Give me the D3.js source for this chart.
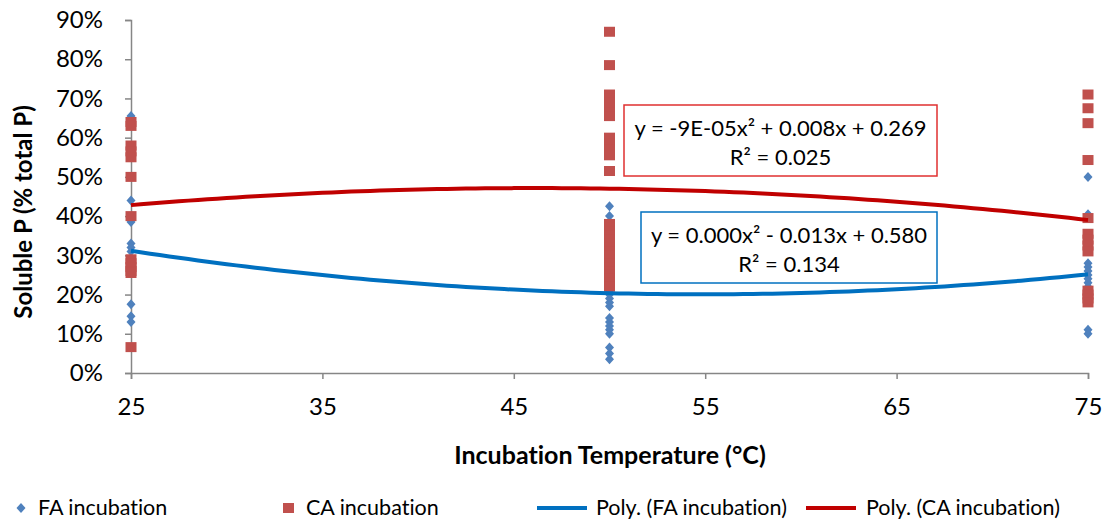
<!DOCTYPE html>
<html>
<head>
<meta charset="utf-8">
<script src="https://cdn.jsdelivr.net/npm/d3@7"></script>
<style>
  body { margin: 0; background: #fff; }
  svg { display: block; font-family: Lato, "Open Sans", sans-serif; font-variant-ligatures: none; }
</style>
</head>
<body>
<svg id="chart" width="1105" height="523"></svg>
<script>
// temperatures (x) and soluble P fractions
const temps = [25, 50, 75];
const faValues = [
  [0.655, 0.44, 0.385, 0.33, 0.32, 0.31, 0.175, 0.145, 0.13],
  [0.425, 0.40, 0.21, 0.20, 0.19, 0.18, 0.17, 0.14, 0.13, 0.12, 0.11, 0.10, 0.065, 0.05, 0.035],
  [0.50, 0.405, 0.28, 0.27, 0.26, 0.25, 0.24, 0.23, 0.22, 0.11, 0.10]
];
const caValues = [
  [0.64, 0.63, 0.58, 0.565, 0.55, 0.50, 0.40, 0.29, 0.28, 0.27, 0.26, 0.255, 0.066],
  [0.87, 0.785, 0.71, 0.70, 0.69, 0.68, 0.665, 0.655, 0.60, 0.585, 0.57, 0.555, 0.515,
   0.38, 0.37, 0.36, 0.35, 0.34, 0.33, 0.32, 0.31, 0.30, 0.29, 0.28, 0.27, 0.26, 0.25, 0.24, 0.23, 0.22],
  [0.71, 0.675, 0.637, 0.543, 0.395, 0.355, 0.34, 0.325, 0.31, 0.21, 0.20, 0.19, 0.18]
];
// polynomial trendline coefficients [a, b, c] for a*x^2 + b*x + c
const faTrend = [0.000125, -0.0137, 0.576];
const caTrend = [-0.0000976, 0.009, 0.264];
const faLabel = ["y = 0.000x\u00b2 - 0.013x + 0.580", "R\u00b2 = 0.134"];
const caLabel = ["y = -9E-05x\u00b2 + 0.008x + 0.269", "R\u00b2 = 0.025"];
const xTicks = [25, 35, 45, 55, 65, 75];
const yTicks = [0, 0.1, 0.2, 0.3, 0.4, 0.5, 0.6, 0.7, 0.8, 0.9];

const BLUE = "#4F81BD", RED = "#C0504D";
const BLUE_LINE = "#0070C0", RED_LINE = "#C00000";
const AXIS = "#868686";

const svg = d3.select("#chart");
const x = d3.scaleLinear().domain([25, 75]).range([131, 1088]);
const y = d3.scaleLinear().domain([0, 0.9]).range([373, 20]);

const diamond = "M0,-5L4.5,0L0,5L-4.5,0Z";

// y axis
const yAxis = svg.append("g").attr("transform", "translate(131,0)")
  .call(d3.axisLeft(y).tickValues(yTicks).tickFormat(d3.format(".0%")).tickSizeOuter(0).tickSize(6).tickPadding(22));
yAxis.select(".domain").attr("stroke", AXIS).attr("stroke-width", 1.5);
yAxis.selectAll(".tick line").attr("stroke", AXIS).attr("stroke-width", 1.5);
yAxis.selectAll(".tick text").attr("font-size", 24).attr("fill", "#000").attr("font-family", "Lato");

// x axis
const xAxis = svg.append("g").attr("transform", "translate(0,373)")
  .call(d3.axisBottom(x).tickValues(xTicks).tickFormat(d3.format("d")).tickSizeOuter(0).tickSize(6).tickPadding(19));
xAxis.select(".domain").attr("stroke", AXIS).attr("stroke-width", 1.5);
xAxis.selectAll(".tick line").attr("stroke", AXIS).attr("stroke-width", 1.5);
xAxis.selectAll(".tick text").attr("font-size", 24).attr("fill", "#000").attr("font-family", "Lato");

// axis titles
svg.append("text").attr("x", 610).attr("y", 464).attr("text-anchor", "middle")
  .attr("font-size", 25).attr("font-weight", "bold").text("Incubation Temperature (\u00b0C)");
svg.append("text").attr("transform", "translate(32,212) rotate(-90)").attr("text-anchor", "middle")
  .attr("font-size", 24).attr("font-weight", "bold").text("Soluble P (% total P)");

const pts = (vals) => vals.flatMap((arr, i) => arr.map(v => ({ t: temps[i], v })));

// FA points (diamonds)
svg.append("g").selectAll("path").data(pts(faValues)).join("path")
  .attr("d", diamond)
  .attr("transform", d => `translate(${x(d.t)},${y(d.v)})`)
  .attr("fill", BLUE);

// CA points (squares)
svg.append("g").selectAll("rect").data(pts(caValues)).join("rect")
  .attr("x", d => x(d.t) - 5.5).attr("y", d => y(d.v) - 5)
  .attr("width", 11).attr("height", 10)
  .attr("fill", RED);

// trendlines
const tx = d3.range(25, 75.01, 0.5);
const poly = (c) => (t) => c[0] * t * t + c[1] * t + c[2];
const line = d3.line().x(d => x(d[0])).y(d => y(d[1])).curve(d3.curveMonotoneX);
[[faTrend, BLUE_LINE], [caTrend, RED_LINE]].forEach(([c, col]) => {
  const f = poly(c);
  svg.append("path").datum(tx.map(t => [t, f(t)]))
    .attr("d", line).attr("fill", "none").attr("stroke", col).attr("stroke-width", 4);
});

// equation boxes
function eqBox(x0, y0, w, h, col, lines) {
  svg.append("rect").attr("x", x0).attr("y", y0).attr("width", w).attr("height", h)
    .attr("fill", "#fff").attr("stroke", col).attr("stroke-width", 1.5);
  lines.forEach((s, i) => {
    svg.append("text").attr("x", x0 + w / 2).attr("y", y0 + 31 + i * 29)
      .attr("text-anchor", "middle").attr("font-size", 22).text(s);
  });
}
eqBox(624, 105, 313, 71, "#E03030", caLabel);
eqBox(641, 212, 296, 71, BLUE_LINE, faLabel);

// legend
const lg = svg.append("g").attr("font-size", 21.5);
lg.append("path").attr("d", diamond).attr("transform", "translate(21,508)").attr("fill", BLUE);
lg.append("text").attr("x", 38).attr("y", 515).text("FA incubation");
lg.append("rect").attr("x", 283).attr("y", 503).attr("width", 11).attr("height", 10).attr("fill", RED);
lg.append("text").attr("x", 306).attr("y", 515).text("CA incubation");
lg.append("line").attr("x1", 537).attr("x2", 587).attr("y1", 508).attr("y2", 508).attr("stroke", BLUE_LINE).attr("stroke-width", 4);
lg.append("text").attr("x", 596).attr("y", 515).text("Poly. (FA incubation)");
lg.append("line").attr("x1", 806).attr("x2", 856).attr("y1", 508).attr("y2", 508).attr("stroke", RED_LINE).attr("stroke-width", 4);
lg.append("text").attr("x", 866).attr("y", 515).text("Poly. (CA incubation)");
</script>
</body>
</html>
